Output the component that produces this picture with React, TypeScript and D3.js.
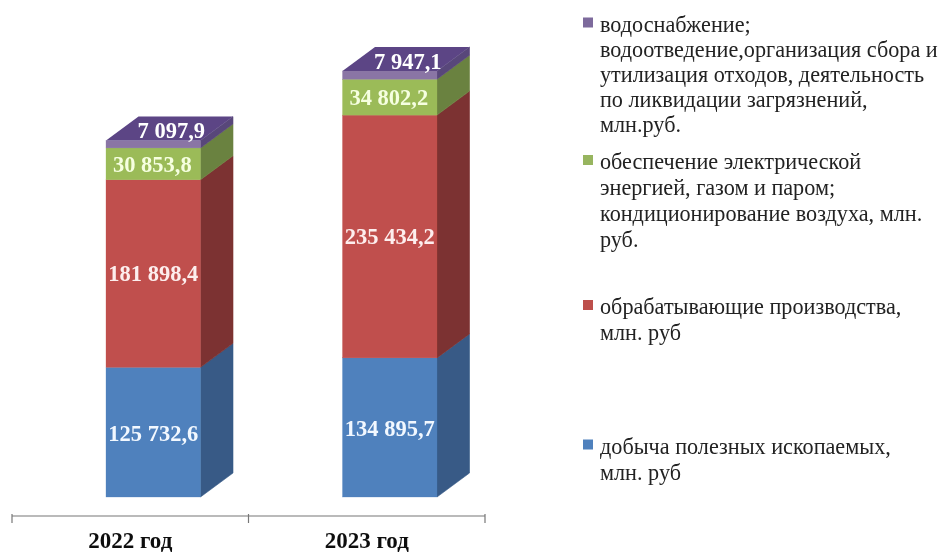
import React from "react";
import * as d3 from "d3";

const years = ["2022 год", "2023 год"];
const seriesKeys = ["mining", "manufacturing", "energy", "water"];
const mining = [125732.6, 134895.7];
const manufacturing = [181898.4, 235434.2];
const energy = [30853.8, 34802.2];
const water = [7097.9, 7947.1];
const seriesValues = [mining, manufacturing, energy, water];
const valueLabels = [
  ["125 732,6", "134 895,7"],
  ["181 898,4", "235 434,2"],
  ["30 853,8", "34 802,2"],
  ["7 097,9", "7 947,1"],
];
const frontColors = ["#4f81bd", "#c0504d", "#9bbb59", "#8a75a5"];
const sideColors = ["#375a86", "#7c3130", "#6b8240", "#59477a"];
const topColor = "#5b4585";
const labelFill = ["#f2f8ff", "#fdeeee", "#f6ffe0", "#ffffff"];
const labelDx = [0, 0, -1, 18];

const legendItems = [
  { color: "#7d6a9c", lines: ["водоснабжение;", "водоотведение,организация сбора и", "утилизация отходов, деятельность", "по ликвидации загрязнений,", "млн.руб."], y: 26.5, gap: 25.2 },
  { color: "#97b55f", lines: ["обеспечение электрической", "энергией, газом и паром;", "кондиционирование воздуха, млн.", "руб."], y: 164, gap: 25.9 },
  { color: "#bd4f4c", lines: ["обрабатывающие производства,", "млн. руб"], y: 309, gap: 26 },
  { color: "#4f81bd", lines: ["добыча полезных ископаемых,", "млн. руб"], y: 448.5, gap: 26 },
];

const W = 941, H = 552;
const depthX = 32.5, depthY = 24;
const axisY = 516;
const y = d3.scaleLinear().domain([0, 400000]).range([497, 84.5]);
const xBand = d3.scaleBand().domain(years).range([12, 485]).paddingInner(0).paddingOuter(0);
const barW = 94.5;
const barOffset = 23;

export default function App() {
  const stack = d3.stack<number>().keys(seriesKeys.map((_, i) => String(i))).value((d, k) => seriesValues[+k][d]);
  const layers = stack([0, 1]);
  const serif = "'Liberation Serif', 'Times New Roman', serif";
  const frontX = (yr: string) => xBand(yr)! + xBand.bandwidth() / 2 - barW / 2 + barOffset;
  return (
    <svg width={W} height={H} viewBox={`0 0 ${W} ${H}`} style={{ position: "absolute", left: 0, top: 0, background: "#fff" }}>
      <defs>
        <filter id="soft" x="-5%" y="-5%" width="110%" height="110%">
          <feGaussianBlur stdDeviation="0.45" />
        </filter>
      </defs>
      <g filter="url(#soft)">
        {years.map((yr, j) => {
          const x0 = frontX(yr);
          const x1 = x0 + barW;
          return (
            <g key={yr}>
              {layers.map((l, i) => {
                const yb = y(l[j][0]);
                const yt = y(l[j][1]);
                return (
                  <polygon key={i} points={`${x1},${yb} ${x1 + depthX},${yb - depthY} ${x1 + depthX},${yt - depthY} ${x1},${yt}`}
                    fill={sideColors[i]} stroke={sideColors[i]} strokeWidth={0.6} />
                );
              })}
              {layers.map((l, i) => {
                const yb = y(l[j][0]);
                const yt = y(l[j][1]);
                return <rect key={i} x={x0} y={yt} width={barW} height={yb - yt} fill={frontColors[i]} stroke={frontColors[i]} strokeWidth={0.3} />;
              })}
              {(() => {
                const yt = y(layers[3][j][1]);
                return <polygon points={`${x0},${yt} ${x0 + depthX},${yt - depthY} ${x1 + depthX},${yt - depthY} ${x1},${yt}`} fill={topColor} />;
              })()}
            </g>
          );
        })}
        {years.map((yr, j) => {
          const x0 = frontX(yr);
          return layers.map((l, i) => {
            const yb = y(l[j][0]);
            const yt = y(l[j][1]);
            const ym = i === 3 ? yt - 10 : (yb + yt) / 2 + (i === 0 ? 1 : 0);
            return (
              <text key={i} x={x0 + barW / 2 + labelDx[i]} y={ym} dy="0.35em" textAnchor="middle"
                fontFamily={serif} fontWeight="bold" fontSize={22.5} fill={labelFill[i]}>
                {valueLabels[i][j]}
              </text>
            );
          });
        })}
        <g stroke="#777" strokeWidth={1.2}>
          <line x1={xBand.range()[0]} x2={xBand.range()[1]} y1={axisY} y2={axisY} />
          {[...years.map((yr) => xBand(yr)!), xBand.range()[1]].map((t) => (
            <line key={t} x1={t} x2={t} y1={axisY - 2} y2={axisY + 7} />
          ))}
        </g>
        {years.map((yr) => (
          <text key={yr} x={xBand(yr)! + xBand.bandwidth() / 2} y={548} textAnchor="middle"
            fontFamily={serif} fontWeight="bold" fontSize={23} fill="#111">
            {yr}
          </text>
        ))}
        {legendItems.map((item) => (
          <g key={item.lines[0]}>
            <rect x={583} y={item.y - 9} width={10} height={10} fill={item.color} />
            {item.lines.map((ln, k) => (
              <text key={k} x={600} y={item.y + k * item.gap + 5} fontFamily={serif} fontSize={22.2} fill="#222">
                {ln}
              </text>
            ))}
          </g>
        ))}
      </g>
    </svg>
  );
}
